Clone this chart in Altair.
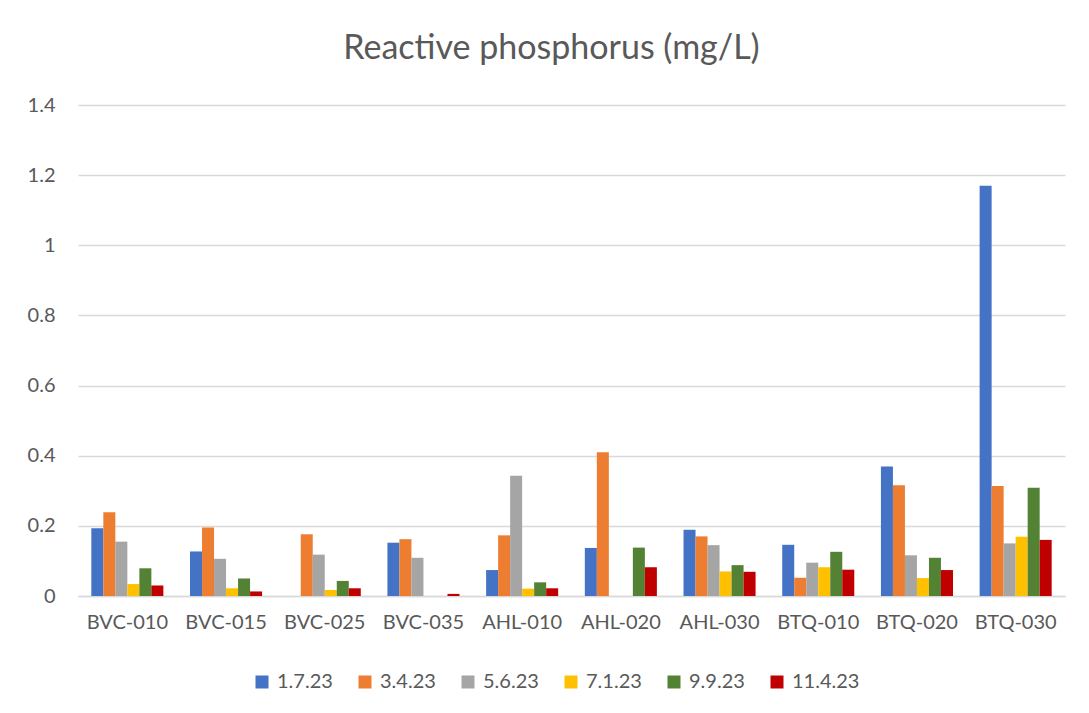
import altair as alt
import pandas as pd

sites = ["BVC-010", "BVC-015", "BVC-025", "BVC-035", "AHL-010",
         "AHL-020", "AHL-030", "BTQ-010", "BTQ-020", "BTQ-030"]
dates = ["1.7.23", "3.4.23", "5.6.23", "7.1.23", "9.9.23", "11.4.23"]
colors = ["#4472C4", "#ED7D31", "#A5A5A5", "#FFC000", "#548235", "#C00000"]

s_1_7_23 = [0.193, 0.127, None, 0.152, 0.074, 0.137, 0.189, 0.146, 0.369, 1.170]
s_3_4_23 = [0.239, 0.195, 0.176, 0.162, 0.173, 0.410, 0.170, 0.052, 0.316, 0.314]
s_5_6_23 = [0.155, 0.106, 0.118, 0.109, 0.343, None, 0.145, 0.095, 0.116, 0.150]
s_7_1_23 = [0.034, 0.022, 0.017, None, 0.021, None, 0.070, 0.082, 0.051, 0.169]
s_9_9_23 = [0.079, 0.050, 0.043, None, 0.039, 0.138, 0.088, 0.126, 0.109, 0.309]
s_11_4_23 = [0.030, 0.013, 0.022, 0.006, 0.022, 0.082, 0.069, 0.075, 0.074, 0.160]

series = [s_1_7_23, s_3_4_23, s_5_6_23, s_7_1_23, s_9_9_23, s_11_4_23]

rows = []
for d, vals in zip(dates, series):
    for s, v in zip(sites, vals):
        if v is not None:
            rows.append({"site": s, "date": d, "value": v})
df = pd.DataFrame(rows)

FONT = "Lato"
GREY = "#595959"
FS = 20

chart = alt.Chart(df).mark_bar().encode(
    x=alt.X("site:N", sort=sites, title=None,
            scale=alt.Scale(paddingInner=0.27, paddingOuter=0.135),
            axis=alt.Axis(labelAngle=0, labelFontSize=FS, labelColor=GREY,
                          labelFont=FONT, ticks=False, domainColor="#D9D9D9",
                          domainWidth=1.3, labelPadding=16)),
    xOffset=alt.XOffset("date:N", sort=dates, scale=alt.Scale(domain=dates)),
    y=alt.Y("value:Q", title=None,
            scale=alt.Scale(domain=[0, 1.4]),
            axis=alt.Axis(values=[0, 0.2, 0.4, 0.6, 0.8, 1, 1.2, 1.4], format="~g",
                          labelFontSize=FS, labelColor=GREY, labelFont=FONT,
                          ticks=False, tickSize=0, domain=False,
                          labelPadding=23, gridColor="#D9D9D9", gridWidth=1.3)),
    color=alt.Color("date:N", sort=dates,
                    scale=alt.Scale(domain=dates, range=colors),
                    legend=alt.Legend(title=None, orient="none", direction="horizontal",
                                      legendX=174, legendY=567, columns=6,
                                      symbolType="square", symbolSize=169,
                                      symbolStrokeWidth=0,
                                      labelFontSize=FS, labelColor=GREY, labelFont=FONT,
                                      columnPadding=22, labelOffset=5)),
).properties(
    width=987, height=491,
    padding={"left": 70, "top": 97, "right": 16, "bottom": 100},
    autosize=alt.AutoSizeParams(type="none"),
    title=alt.TitleParams("Reactive phosphorus (mg/L)", fontSize=34, font=FONT,
                          color=GREY, fontWeight="normal", anchor="middle",
                          offset=29, dx=-20),
).configure_view(stroke=None)

chart.save("out.html", embed_options={"renderer": "svg", "actions": False})
